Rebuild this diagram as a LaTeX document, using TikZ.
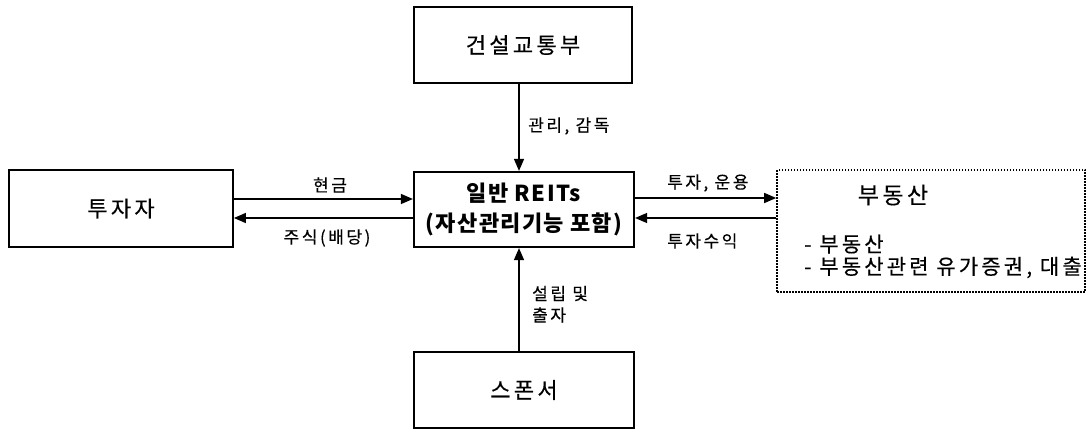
\documentclass[tikz,border=0pt]{standalone}
\usepackage{fontspec}
\setmainfont{Noto Sans CJK KR}
\newfontfamily\krs{Noto Sans CJK KR}[LetterSpace=15,FakeBold=0.4]
\newfontfamily\krb{Noto Sans CJK KR}[LetterSpace=6]
\usetikzlibrary{arrows.meta}
\begin{document}
\begin{tikzpicture}[x=1pt,y=-1pt,
  box/.style={draw,line width=1.8pt,inner sep=0pt,font=\krs\fontsize{22}{26}\selectfont},
  arr/.style={line width=1.4pt,-{Triangle[length=12pt,width=10pt]}},
  lbl/.style={inner sep=0pt,font=\krs\fontsize{17}{20}\selectfont},
  retxt/.style={inner sep=0pt,font=\krs\fontsize{21}{24}\selectfont}]
\useasboundingbox (0,0) rectangle (1087,430);
% boxes
\node[box,minimum width=224pt,minimum height=77pt] (inv) at (121,208.5) {투자자};
\node[box,line width=2.2pt,minimum width=220pt,minimum height=75pt,align=center,
      font=\krb\bfseries\fontsize{22}{30}\selectfont] (reits) at (524,209.5) {일반 REITs\\(자산관리기능 포함)};
\node[box,minimum width=218pt,minimum height=76pt] (mol) at (523,45) {건설교통부};
\node[box,minimum width=220pt,minimum height=76pt] (sp) at (524,390) {스폰서};
\node[draw,line width=1.6pt,dash pattern=on 1.5pt off 1.5pt,minimum width=308pt,minimum height=122pt,inner sep=0pt] (re) at (931,231) {};
% texts inside property box
\node[retxt,font=\krs\fontsize{23}{26}\selectfont] (ret) at (893,195) {부동산};
\node[retxt,anchor=west] (re1) at (804,244) {- 부동산};
\node[retxt,anchor=west] (re2) at (804,267.5) {- 부동산관련 유가증권, 대출};
% connectors
\draw[arr] ([xshift=-4pt]mol.south) -- ([xshift=-5pt]reits.north);
\draw[arr] ([xshift=-5pt]sp.north) -- ([xshift=-5pt]reits.south);
\draw[arr] ([yshift=9.5pt]inv.east) -- ([yshift=10.5pt]reits.west);
\draw[arr] ([yshift=-8.5pt]reits.west) -- ([yshift=-9.5pt]inv.east);
\draw[arr] ([yshift=11.5pt]reits.east) -- ([yshift=33pt]re.west);
\draw[arr] ([yshift=13pt]re.west) -- ([yshift=-8.5pt]reits.east);
% labels
\node[lbl] (l1) at (330,185) {현금};
\node[lbl] (l2) at (327,238) {주식(배당)};
\node[lbl,anchor=west] (l3) at (528,126) {관리, 감독};
\node[lbl,anchor=west] (l4) at (532,293.5) {설립 및};
\node[lbl,anchor=west] (l5) at (532,315) {출자};
\node[lbl,anchor=west] (l6) at (667,183) {투자, 운용};
\node[lbl,anchor=west] (l7) at (667,241) {투자수익};
\end{tikzpicture}
\end{document}
